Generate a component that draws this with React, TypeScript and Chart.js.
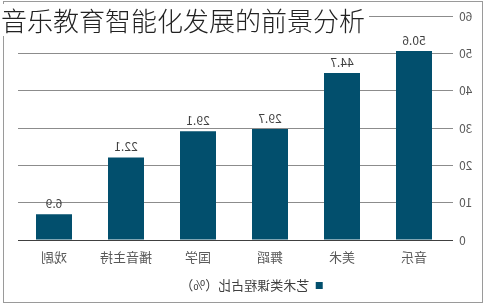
import React, { useEffect, useRef } from "react";
import { Chart, registerables } from "chart.js";

Chart.register(...registerables);

const TITLE = "音乐教育智能化发展的前景分析";
const categories = ["音乐", "美术", "舞蹈", "国学", "播音主持", "戏剧"];
const values = [50.6, 44.7, 29.7, 29.1, 22.1, 6.9];
const seriesName = "艺术类课程占比（%）";
const yTicks = [0, 10, 20, 30, 40, 50, 60];

const BAR_COLOR = "#024F6D";
const FONT = "'Noto Sans CJK SC', 'Noto Sans', sans-serif";

const valueLabels = {
  id: "valueLabels",
  afterDatasetsDraw(chart: any) {
    const ctx = chart.ctx;
    const meta = chart.getDatasetMeta(0);
    ctx.save();
    ctx.font = `12px ${FONT}`;
    ctx.fillStyle = "#404040";
    ctx.textAlign = "center";
    ctx.textBaseline = "bottom";
    meta.data.forEach((bar: any, i: number) => {
      ctx.fillText(String(values[i]), bar.x, bar.y - 5);
    });
    ctx.restore();
  },
};

export default function App() {
  const ref = useRef<HTMLCanvasElement | null>(null);
  useEffect(() => {
    if (!ref.current) return;
    const chart = new Chart(ref.current, {
      type: "bar",
      data: {
        labels: categories,
        datasets: [
          {
            label: seriesName,
            data: values,
            backgroundColor: BAR_COLOR,
            borderWidth: 0,
            barPercentage: 0.5,
            categoryPercentage: 1,
          },
        ],
      },
      options: {
        responsive: false,
        animation: false,
        devicePixelRatio: 1,
        layout: { padding: { left: 0, right: 18, top: 16, bottom: 5 } },
        plugins: {
          tooltip: { enabled: false },
          legend: {
            position: "bottom",
            labels: {
              boxWidth: 7,
              boxHeight: 7,
              color: "#404040",
              font: { family: FONT, size: 13 },
              padding: 4,
            },
          },
        },
        scales: {
          x: {
            grid: { display: false, drawTicks: false },
            border: { display: false },
            afterFit(scale: any) {
              scale.height = 35;
            },
            ticks: {
              color: "#595959",
              font: { family: FONT, size: 13 },
              padding: 9,
              maxRotation: 0,
            },
          },
          y: {
            min: 0,
            max: 60,
            afterBuildTicks(scale: any) {
              scale.ticks = yTicks.map((v) => ({ value: v }));
            },
            afterFit(scale: any) {
              scale.width = 35;
            },
            grid: {
              color: (c: any) => (c.tick && c.tick.value === 0 ? "#404040" : "#8c8c8c"),
              tickLength: 3,
              lineWidth: 1,
            },
            border: { display: false },
            ticks: {
              color: "#595959",
              font: { family: FONT, size: 12 },
              padding: 6,
            },
          },
        },
      },
      plugins: [valueLabels],
    });
    return () => chart.destroy();
  }, []);

  return (
    <div style={{ position: "fixed", left: 0, top: 0, width: 485, height: 307, background: "#fff" }}>
      <canvas
        ref={ref}
        width={485}
        height={307}
        style={{ position: "absolute", left: 0, top: 0, width: 485, height: 307, transform: "scaleX(-1)" }}
      />
      <div
        style={{
          position: "absolute",
          left: 3,
          top: 1,
          width: 478,
          height: 300,
          border: "1px solid #9a9a9a",
          pointerEvents: "none",
        }}
      />
      <div
        style={{
          position: "absolute",
          left: 1,
          top: 4,
          padding: "0 4px 0 0",
          background: "#fff",
          color: "#222",
          fontFamily: FONT,
          fontSize: 26,
          fontWeight: 300,
          lineHeight: "32px",
          whiteSpace: "nowrap",
        }}
      >
        {TITLE}
      </div>
    </div>
  );
}
